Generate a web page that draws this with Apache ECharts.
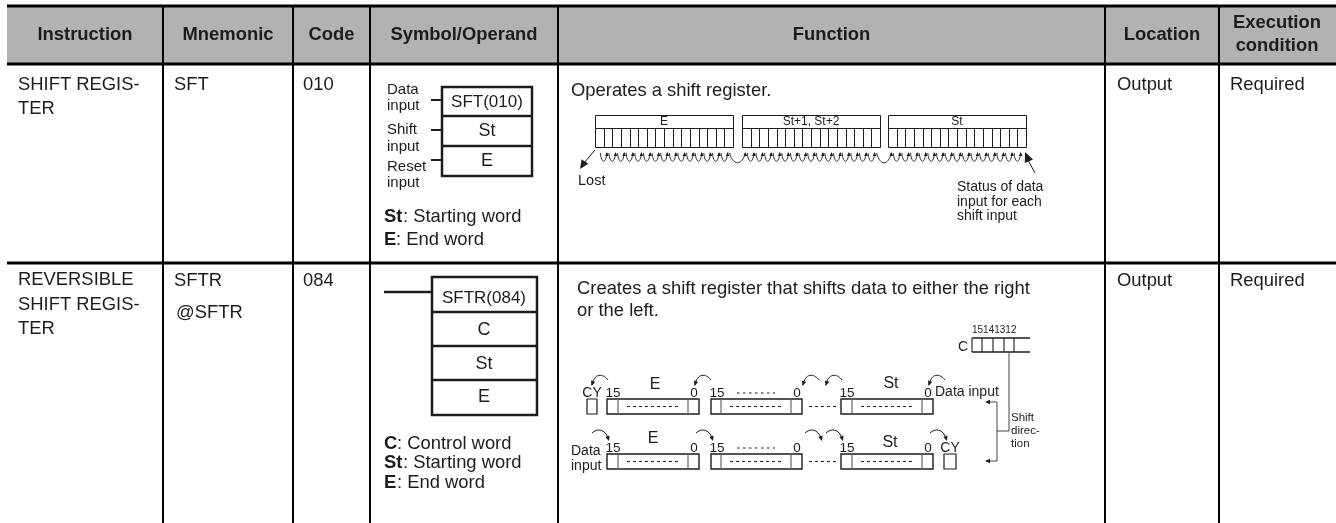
<!DOCTYPE html>
<html><head><meta charset="utf-8">
<style>html,body{margin:0;padding:0;background:#fff}#c{width:1336px;height:523px}</style>
<script src="https://cdn.jsdelivr.net/npm/echarts@6/dist/echarts.min.js"></script>
</head><body><div id="c"></div>
<script>
const headers = ['Instruction','Mnemonic','Code','Symbol/Operand','Function','Location'];
const headerLast = ['Execution','condition'];
const instruction1 = ['SHIFT REGIS-','TER'];
const instruction2 = ['REVERSIBLE','SHIFT REGIS-','TER'];
const mnemonics1 = ['SFT'];
const mnemonics2 = ['SFTR','@SFTR'];
const codes = ['010','084'];
const symbolCells1 = ['SFT(010)','St','E'];
const symbolCells2 = ['SFTR(084)','C','St','E'];
const inputs1 = ['Data','input','Shift','input','Reset','input'];
const operands1 = [['St',': Starting word'],['E',': End word']];
const operands2 = [['C',': Control word'],['St',': Starting word'],['E',': End word']];
const function1 = ['Operates a shift register.'];
const function2 = ['Creates a shift register that shifts data to either the right','or the left.'];
const registerLabels = ['E','St+1, St+2','St'];
const statusNote = ['Status of data','input for each','shift input'];
const controlBits = '15141312';
const shiftNote = ['Shift','direc-','tion'];
const locationText = 'Output';
const conditionText = 'Required';

const columnEdges = [7,163,293,370,558,1105,1219,1336];
const font = '"Liberation Sans", Arial, sans-serif';
const ink = '#1c1c1c';
const shapes = [], labels = [];
const L = (x1,y1,x2,y2,w,c) => shapes.push({k:'l',p:[x1,y1,x2,y2],w:w||1,c:c||ink});
const R = (x,y,w,h,lw,fill) => shapes.push({k:'r',p:[x,y,w,h],w:lw||0,f:fill});
const C = (x1,y1,cx1,cy1,cx2,cy2,x2,y2,w) => shapes.push({k:'b',p:[x1,y1,cx1,cy1,cx2,cy2,x2,y2],w:w||1});
const A = (x,y,dx,dy,s) => { const n=Math.hypot(dx,dy),u=dx/n,v=dy/n; s=s||5;
  shapes.push({k:'t',p:[x,y,x-u*s-v*s*.45,y-v*s+u*s*.45,x-u*s+v*s*.45,y-v*s-u*s*.45]}); };
const T = (s,x,y,size,o) => labels.push(Object.assign({s,x,y,size},o||{}));

// Table frame
R(7,7,1329,57,0,'#b2b2b2');
L(7,6,1336,6,3,'#000'); L(7,64,1336,64,3,'#000'); L(7,263,1336,263,3,'#000');
columnEdges.slice(1,-1).forEach(x=>L(x,6,x,523,2,'#000'));
const hs = 18.4;
headers.forEach((h,i)=>T(h,(columnEdges[i]+columnEdges[i+1])/2,35,hs,{b:1,a:'center'}));
T(headerLast[0],1277,23,hs,{b:1,a:'center'}); T(headerLast[1],1277,46,hs,{b:1,a:'center'});

// Body text
const fs = 18.4;
instruction1.forEach((s,i)=>T(s,18,85+i*24,fs));
instruction2.forEach((s,i)=>T(s,18,280+i*24.5,fs));
T(mnemonics1[0],174,85,fs); T(mnemonics2[0],174,281,fs); T(mnemonics2[1],176,313,fs);
T(codes[0],303,85,fs); T(codes[1],303,281,fs);
T(locationText,1117,85,fs); T(conditionText,1230,85,fs); T(locationText,1117,281,fs); T(conditionText,1230,281,fs);
T(function1[0],571,91,fs);
function2.forEach((s,i)=>T(s,577,288.5+i*22.5,fs));

// Symbol 1
R(442,87,90,89,2.5);
L(442,116,532,116,2.5); L(442,146,532,146,2.5);
[102,131,161].forEach((y,i)=>T(symbolCells1[i],487,y,i?18:17,{a:'center'}));
[90,106,130,147,167,183].forEach((y,i)=>T(inputs1[i],387,y,15));
L(431,100,442,100,2); L(431,130,442,130,2); L(431,160,442,160,2);
operands1.forEach((o,i)=>{T(o[0],384,217+i*23,fs,{b:1}); T(o[1],384+(o[0]=='St'?19:12),217+i*23,fs);});

// Symbol 2
R(432,277,105,138,2.5);
[312,346,380].forEach(y=>L(432,y,537,y,2.5));
L(384,292,432,292,2.5);
[298,330,364,397].forEach((y,i)=>T(symbolCells2[i],484,y,i?18:17,{a:'center'}));
operands2.forEach((o,i)=>{const y=443.5+i*19.5;T(o[0],384,y,fs,{b:1});T(o[1],384+(o[0]=='St'?19:13),y,fs);});

// Register diagram 1
[595,742,888].forEach((x0,b)=>{
  const w=138,h0=115,h1=128,h2=147,cw=w/16;
  R(x0+.5,h0+.5,w,h2-h0,1);
  L(x0,h1+.5,x0+w,h1+.5,1);
  for(let i=1;i<16;i++){ const x=Math.round(x0+i*cw)+.5; L(x,h1,x,h2,1); }
  T(registerLabels[b],x0+w/2,122,12,{a:'center'});
  for(let i=0;i<16;i++){
    const a=x0+i*cw+cw*.5, e=a+cw;
    if(i==15 && b==2) break;
    if(i==15){
      const nx=[742,888][b]+cw*.5;
      C(a+1,153,a+4,166,nx-4,166,nx-1,153,.9); A(nx-1,152,0,-1,4);
    } else { C(a+1,153,a+2,164,e-2,164,e-1,153,.9); A(e-1,152,0,-1,4); }
  }
});
L(595,150,584,163,1); A(580,169,-4,6,9);
L(1035,173,1028,160,1); A(1025,152,-3,-7,10);
T('Lost',578,181,14.5);
statusNote.forEach((s,i)=>T(s,957,187+i*14.7,14));

// Register diagram 2
const words=[[607,618,688,699],[711,721,791,802],[841,852,922,933]];
[[399,414],[454,469]].forEach((r,ri)=>{
  const [y0,y1]=r;
  words.forEach((v,wi)=>{
    R(v[0],y0,v[3]-v[0],y1-y0,1.4,null);
    L(v[1],y0,v[1],y1,1.2,'#666'); L(v[2],y0,v[2],y1,1.2,'#666');
    shapes.push({k:'l',p:[v[1]+9,(y0+y1)/2,v[2]-9,(y0+y1)/2],w:1,c:ink,d:[3,3]});
    T('15',v[0]+6,y0-6,13.5,{a:'center'});
    T('0',v[3]-5,y0-6,13.5,{a:'center'});
  });
  shapes.push({k:'l',p:[737,y0-6,775,y0-6],w:1,c:ink,d:[2.5,3.5]});
  shapes.push({k:'l',p:[809,(y0+y1)/2,836,(y0+y1)/2],w:1,c:ink,d:[3,3]});
  const ax= ri==0?[592,695,803,826,929]:[592,696,805,826,930];
  ax.forEach(x=>{
    if(ri==0){ C(x,385,x+2,373,x+11,373,x+16,380,1); A(x-.5,386,-1,3,5); }
    else { C(x,433,x+5,428,x+13,429,x+16,438,1); A(x+17,441,1,3,5); }
  });
});
T('E',655,385,16,{a:'center'}); T('E',653,439,16,{a:'center'});
T('St',891,384,16,{a:'center'}); T('St',890,443,16,{a:'center'});
T('CY',592,393,14,{a:'center'}); R(587,399,10,15,1.2);
T('CY',950,448,14,{a:'center'}); R(944,454,12,15,1.2);
T('Data input',935,392,14);
T('Data',571,451,14); T('input',571,466,14);
// Control word
T('C',963,347,14,{a:'center'});
T(controlBits,972,330,10);
L(972,338,1030,338,1.4); L(972,352,1030,352,1.4);
[972,982,993,1004,1014].forEach(x=>L(x,338,x,352,1.1));
L(1009,352,1009,431,1,'#444');
L(997,431,1009,431,1,'#444');
L(997,402,997,461,1,'#444');
L(988,402,997,402,1,'#444'); A(985,402,-1,0,5);
L(988,461,997,461,1,'#444'); A(985,461,-1,0,5);
shiftNote.forEach((s,i)=>T(s,1011,418+i*12.7,11.5));

function shapeItem(params, api){
  const s = shapes[params.dataIndex];
  const pt=(x,y)=>api.coord([x,y]);
  if(s.k==='l'){
    const a=pt(s.p[0],s.p[1]),b=pt(s.p[2],s.p[3]);
    return {type:'line',shape:{x1:a[0],y1:a[1],x2:b[0],y2:b[1]},style:{stroke:s.c,lineWidth:s.w,lineDash:s.d||null,fill:null}};
  }
  if(s.k==='r'){
    const a=pt(s.p[0],s.p[1]),b=pt(s.p[0]+s.p[2],s.p[1]+s.p[3]);
    return {type:'rect',shape:{x:a[0],y:a[1],width:b[0]-a[0],height:b[1]-a[1]},
      style:{fill:s.f||'transparent',stroke:s.w?ink:null,lineWidth:s.w}};
  }
  if(s.k==='b'){
    const q=[];for(let i=0;i<8;i+=2)q.push(pt(s.p[i],s.p[i+1]));
    return {type:'bezierCurve',shape:{x1:q[0][0],y1:q[0][1],cpx1:q[1][0],cpy1:q[1][1],cpx2:q[2][0],cpy2:q[2][1],x2:q[3][0],y2:q[3][1]},
      style:{stroke:ink,lineWidth:s.w,fill:null}};
  }
  const q=[];for(let i=0;i<6;i+=2)q.push(pt(s.p[i],s.p[i+1]));
  return {type:'polygon',shape:{points:q},style:{fill:ink}};
}
function labelItem(params, api){
  const t=labels[params.dataIndex], c=api.coord([t.x,t.y]);
  return {type:'text',x:c[0],y:c[1],style:{text:t.s,fill:ink,align:t.a||'left',verticalAlign:'middle',
    font:(t.b?'bold ':'')+t.size+'px '+font}};
}
const chart = echarts.init(document.getElementById('c'),null,{renderer:'canvas'});
chart.setOption({
  animation:false,
  backgroundColor:'#fff',
  grid:{left:0,right:0,top:0,bottom:0},
  xAxis:{type:'value',min:0,max:1336,show:false},
  yAxis:{type:'value',min:0,max:523,inverse:true,show:false},
  series:[
    {type:'custom',coordinateSystem:'cartesian2d',clip:false,silent:true,renderItem:shapeItem,data:shapes.map((s,i)=>[i,i])},
    {type:'custom',coordinateSystem:'cartesian2d',clip:false,silent:true,renderItem:labelItem,z:5,data:labels.map((s,i)=>[i,i])}
  ]
});
</script></body></html>
